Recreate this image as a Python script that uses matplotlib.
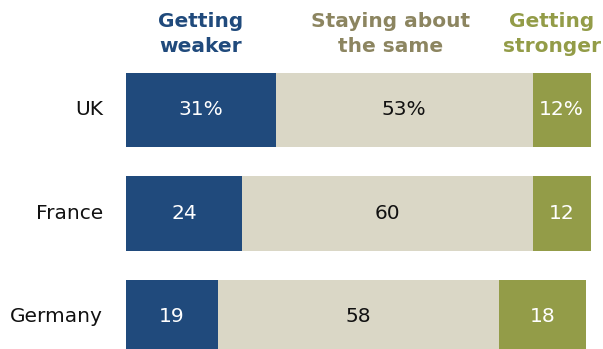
import matplotlib.pyplot as plt

countries = ['UK', 'France', 'Germany']
weaker = [31, 24, 19]
same = [53, 60, 58]
stronger = [12, 12, 18]
value_labels = [['31%', '53%', '12%'], ['24', '60', '12'], ['19', '58', '18']]
headers = ['Getting\nweaker', 'Staying about\nthe same', 'Getting\nstronger']

BLUE = '#204a7c'
BEIGE = '#dad7c6'
GREEN = '#939c48'
TAN = '#8c8560'

W, H = 603, 349
fig = plt.figure(figsize=(W / 100, H / 100), dpi=100)
ax = fig.add_axes([0, 0, 1, 1])

px_per = 4.84   # pixels per percentage point
x0 = 126        # pixel where bars begin
row_h = 103.5
y0 = 110
ax.set_xlim(-x0 / px_per, (W - x0) / px_per)
ax.set_ylim((H - y0) / row_h, -y0 / row_h)
ax.axis('off')

ypos = list(range(len(countries)))
bh = 0.715
left2 = [a + b for a, b in zip(weaker, same)]
ax.barh(ypos, weaker, height=bh, color=BLUE)
ax.barh(ypos, same, left=weaker, height=bh, color=BEIGE)
ax.barh(ypos, stronger, left=left2, height=bh, color=GREEN)

for i, c in enumerate(countries):
    ax.text(-23 / px_per, i, c, ha='right', va='center', fontsize=14.5,
            color='#111111')
    segs = [(0, weaker[i], 'white'), (weaker[i], same[i], '#111111'),
            (left2[i], stronger[i], 'white')]
    for (lft, w, col), lab in zip(segs, value_labels[i]):
        ax.text(lft + w / 2, i, lab, ha='center', va='center', fontsize=14.5,
                color=col)

hdr_x = [201, 391, 552]
hdr_col = [BLUE, TAN, GREEN]
for x, t, col in zip(hdr_x, headers, hdr_col):
    fig.text(x / W, 1 - 34 / H, t, ha='center', va='center', fontsize=14.5,
             fontweight='bold', color=col, linespacing=1.45)

fig.savefig('out.png', dpi=100, facecolor='white')
